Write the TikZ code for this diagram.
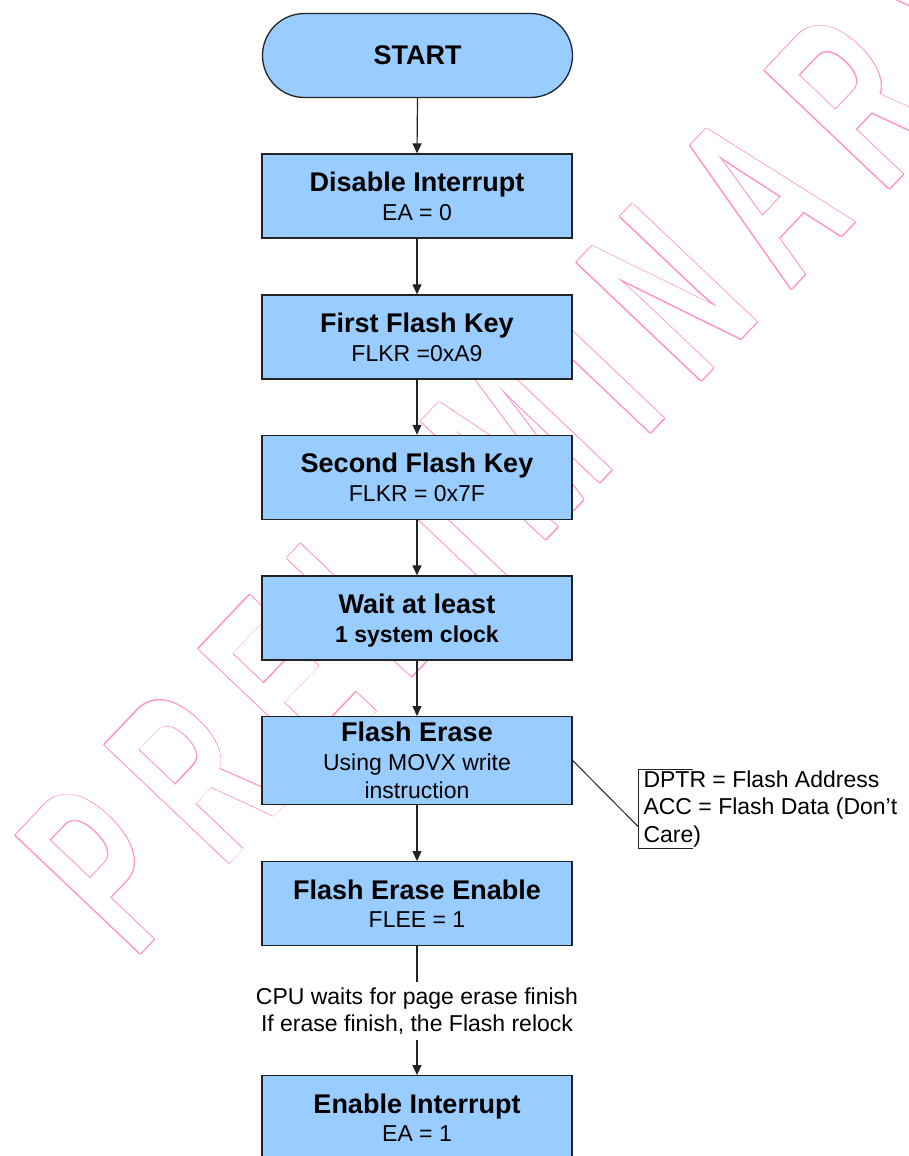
\documentclass[tikz,border=0pt]{standalone}
\usepackage{fontspec}
\setmainfont{Liberation Sans}
\newfontfamily\wmfont[FakeStretch=0.55]{Liberation Sans}
\usetikzlibrary{arrows.meta,calc}
\definecolor{boxfill}{RGB}{153,204,255}
\definecolor{wmpink}{RGB}{255,150,205}
\definecolor{edgecol}{RGB}{35,35,35}
\newcommand\boxtitle[1]{{\fontsize{27}{28.5}\selectfont\bfseries #1}}
\begin{document}
\begin{tikzpicture}[x=1pt,y=1pt,
  box/.style={draw=edgecol, line width=1.3pt, fill=boxfill, minimum width=310pt,
    minimum height=84pt, inner sep=0pt, align=center, text depth=0pt,
    font=\fontsize{23}{28.5}\selectfont},
  term/.style={box, rounded corners=42pt},
  conn/.style={draw=edgecol, line width=1.2pt},
  arr/.style={conn, -{Triangle[width=9pt,length=10pt]}},
  wm/.style={font=\wmfont\bfseries\fontsize{250}{250}\selectfont, inner sep=0pt,
    anchor=base west, rotate=46.5},
  lbl/.style={font=\fontsize{23}{27.6}\selectfont, align=center, inner sep=5pt},
  notetext/.style={font=\fontsize{23}{27.5}\selectfont, align=left, anchor=west,
    inner xsep=5pt, inner ysep=1.2pt},
]
\useasboundingbox (0,0) rectangle (909,-1156);
\clip (0,0) rectangle (909,-1156);

% watermark (outlined letters)
\begin{scope}[shift={(134.3,-960.9)}, rotate=45.6]
\foreach \px/\ch [count=\i] in {0/P,126.7/R,261.1/E,387.8/L,506.7/I,579.3/M,729.1/I,801.7/N,936.1/A,1070.5/R,1204.9/Y}{
  \foreach \a [count=\j] in {0,15,...,345}{
    \node[wm, text=wmpink] (wm\i-\j) at ($(\px,0)+(\a:0.75)$) {\ch};
  }
  \node[wm, text=white] (wm\i) at (\px,0) {\ch};
}
\end{scope}

% flowchart
\node[term] (start) at (417.5,-55.5) {\boxtitle{START}};
\node[box] (dis) at (417,-196) {\boxtitle{Disable Interrupt}\\EA = 0};
\node[box] (k1) at (417,-337) {\boxtitle{First Flash Key}\\FLKR =0xA9};
\node[box] (k2) at (417,-477.4) {\boxtitle{Second Flash Key}\\FLKR = 0x7F};
\node[box] (wait) at (417,-618) {\boxtitle{Wait at least}\\\textbf{1 system clock}};
\node[box, minimum height=87.6pt] (fe) at (417,-760.5) {\boxtitle{Flash Erase}\\Using MOVX write\\instruction};
\node[box] (fee) at (417,-903.7) {\boxtitle{Flash Erase Enable}\\FLEE = 1};
\node[lbl] (cpu) at (417,-1011) {CPU waits for page erase finish\\If erase finish, the Flash relock};
\node[box] (en) at (417,-1117.7) {\boxtitle{Enable Interrupt}\\EA = 1};

\draw[arr] (start.south) -- (dis.north);
\draw[arr] (dis.south) -- (k1.north);
\draw[arr] (k1.south) -- (k2.north);
\draw[arr] (k2.south) -- (wait.north);
\draw[arr] (wait.south) -- (fe.north);
\draw[arr] (fe.south) -- (fee.north);
\draw[conn] (fee.south) -- (cpu.north);
\draw[arr] (cpu.south) -- (en.north);

% annotation
\node[notetext] (note) at (638.3,-808.7) {DPTR = Flash Address\\ACC = Flash Data (Don’t\\Care)};
\coordinate (callout) at ($(note.west)+(0,-18)$);
\draw[conn, line width=1pt] (fe.east) -- (callout);
\draw[conn, line width=1pt] ($(note.north west)+(54.4,0)$) -- (note.north west)
  -- (note.south west) -- ($(note.south west)+(54.4,0)$);
\end{tikzpicture}
\end{document}
